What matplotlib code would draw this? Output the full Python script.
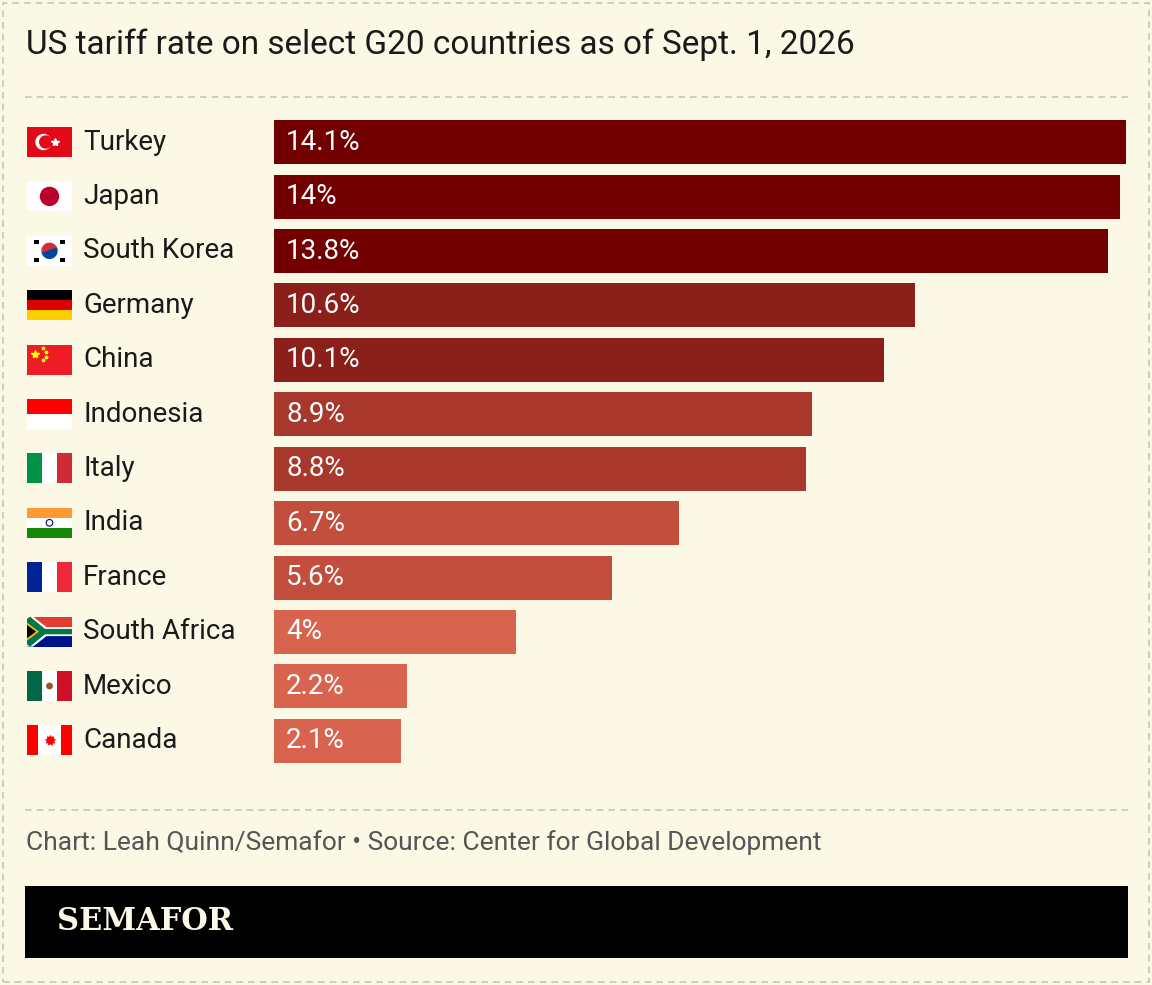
import matplotlib
matplotlib.use("Agg")
import matplotlib.pyplot as plt
from matplotlib.patches import Rectangle, Circle, Polygon, Wedge

countries = ["Turkey", "Japan", "South Korea", "Germany", "China", "Indonesia",
             "Italy", "India", "France", "South Africa", "Mexico", "Canada"]
rates = [14.1, 14.0, 13.8, 10.6, 10.1, 8.9, 8.8, 6.7, 5.6, 4.0, 2.2, 2.1]
labels = ["14.1%", "14%", "13.8%", "10.6%", "10.1%", "8.9%", "8.8%", "6.7%",
          "5.6%", "4%", "2.2%", "2.1%"]
colors = ["#730000", "#730000", "#730000", "#8b1f1a", "#8b1f1a", "#a8372c",
          "#a8372c", "#c24e3d", "#c24e3d", "#d86450", "#d86450", "#d86450"]

BG = "#fbf8e6"
W, H = 1152, 985
fig = plt.figure(figsize=(W / 100, H / 100), dpi=100, facecolor=BG)


def fbox(x0, y0, x1, y1):
    # pixel box (y from top) -> figure fraction rect
    return [x0 / W, 1 - y1 / H, (x1 - x0) / W, (y1 - y0) / H]


def px(x, y):
    return x / W, 1 - y / H


# outer dashed border and separators
fig.add_artist(Rectangle(px(3, 982), (W - 6) / W, (H - 6) / H, transform=fig.transFigure,
                         fill=False, ec="#c8c6b8", lw=1.2, ls=(0, (4, 3))))
for yy in (97, 810):
    fig.add_artist(plt.Line2D([25 / W, 1128 / W], [1 - yy / H] * 2, transform=fig.transFigure,
                              color="#c8c6b8", lw=1.2, ls=(0, (4, 3))))

fig.text(*px(26, 45), "US tariff rate on select G20 countries as of Sept. 1, 2026",
         fontsize=24, family="Roboto", color="#1a1a1a", va="center")

ax = fig.add_axes(fbox(274, 115, 1126, 768))
ax.set_facecolor(BG)
y = list(range(len(countries)))
ax.barh(y, rates, height=0.81, color=colors)
ax.set_xlim(0, max(rates))
ax.set_ylim(len(countries) - 0.5, -0.5)
ax.axis("off")
for i, (lab, v) in enumerate(zip(labels, rates)):
    ax.text(0.2, i, lab, color="white", fontsize=20, family="Roboto", va="center")

# country names and flags
row_top, row_step = 142, 54.4
for i, name in enumerate(countries):
    cy = row_top + i * row_step
    fig.text(*px(83, cy), name, fontsize=20, family="Roboto", color="#1a1a1a", va="center")
    fa = fig.add_axes(fbox(27, cy - 15, 72, cy + 15))
    fa.set_xlim(0, 3)
    fa.set_ylim(0, 2)
    fa.axis("off")
    R = lambda x, y0, w, h, c: fa.add_patch(Rectangle((x, y0), w, h, color=c, lw=0))
    if name == "Turkey":
        R(0, 0, 3, 2, "#e30a17")
        fa.add_patch(Circle((1.1, 1), 0.5, color="white"))
        fa.add_patch(Circle((1.25, 1), 0.4, color="#e30a17"))
        fa.plot(1.85, 1, marker="*", color="white", ms=6)
    elif name == "Japan":
        R(0, 0, 3, 2, "white")
        fa.add_patch(Circle((1.5, 1), 0.6, color="#bc002d"))
    elif name == "South Korea":
        R(0, 0, 3, 2, "white")
        fa.add_patch(Wedge((1.5, 1), 0.5, 20, 200, color="#cd2e3a"))
        fa.add_patch(Wedge((1.5, 1), 0.5, 200, 380, color="#0047a0"))
        for (bx, by) in [(0.45, 1.45), (2.2, 1.45), (0.45, 0.25), (2.2, 0.25)]:
            R(bx, by, 0.35, 0.3, "black")
    elif name == "Germany":
        R(0, 4 / 3, 3, 2 / 3, "black")
        R(0, 2 / 3, 3, 2 / 3, "#dd0000")
        R(0, 0, 3, 2 / 3, "#ffce00")
    elif name == "China":
        R(0, 0, 3, 2, "#ee1c25")
        fa.plot(0.55, 1.4, marker="*", color="#ffff00", ms=6)
        for sx, sy in [(1.05, 1.75), (1.25, 1.5), (1.25, 1.2), (1.05, 0.95)]:
            fa.plot(sx, sy, marker="*", color="#ffff00", ms=2.5)
    elif name == "Indonesia":
        R(0, 1, 3, 1, "#ff0000")
        R(0, 0, 3, 1, "white")
    elif name == "Italy":
        R(0, 0, 1, 2, "#009246")
        R(1, 0, 1, 2, "white")
        R(2, 0, 1, 2, "#ce2b37")
    elif name == "India":
        R(0, 4 / 3, 3, 2 / 3, "#ff9933")
        R(0, 2 / 3, 3, 2 / 3, "white")
        R(0, 0, 3, 2 / 3, "#138808")
        fa.add_patch(Circle((1.5, 1), 0.22, fill=False, ec="#000080", lw=0.8))
    elif name == "France":
        R(0, 0, 1, 2, "#002395")
        R(1, 0, 1, 2, "white")
        R(2, 0, 1, 2, "#ed2939")
    elif name == "Mexico":
        R(0, 0, 1, 2, "#006847")
        R(1, 0, 1, 2, "white")
        R(2, 0, 1, 2, "#ce1126")
        fa.add_patch(Circle((1.5, 1), 0.18, color="#8c5a2b"))
    elif name == "Canada":
        R(0, 0, 3, 2, "white")
        R(0, 0, 0.75, 2, "#ff0000")
        R(2.25, 0, 0.75, 2, "#ff0000")
        fa.plot(1.5, 1, marker=(9, 1, 0), color="#ff0000", ms=7)
    elif name == "South Africa":
        R(0, 1, 3, 1, "#e03c31")
        R(0, 0, 3, 1, "#001489")
        fa.add_patch(Polygon([(0, 2), (0.4, 2), (1.3, 1.3), (3, 1.3), (3, 0.7), (1.3, 0.7),
                              (0.4, 0), (0, 0)], color="white", lw=0))
        fa.add_patch(Polygon([(0, 1.85), (0.2, 2), (1.2, 1.18), (3, 1.18), (3, 0.82), (1.2, 0.82),
                              (0.2, 0), (0, 0.15)], color="#007749", lw=0))
        fa.add_patch(Polygon([(0, 1.6), (0.8, 1), (0, 0.4)], color="#ffb81c", lw=0))
        fa.add_patch(Polygon([(0, 1.45), (0.6, 1), (0, 0.55)], color="black", lw=0))

fig.text(*px(26, 843), "Chart: Leah Quinn/Semafor \u2022 Source: Center for Global Development",
         fontsize=19, family="Roboto", color="#555555", va="center")

fig.add_artist(Rectangle(px(25, 958), 1103 / W, 72 / H, transform=fig.transFigure,
                         color="black", lw=0))
fig.text(*px(57, 922), "SEMAFOR", fontsize=22, family="DejaVu Serif", weight="bold",
         color="#fbf8e6", va="center")

fig.savefig("out.png", dpi=100, facecolor=BG)
